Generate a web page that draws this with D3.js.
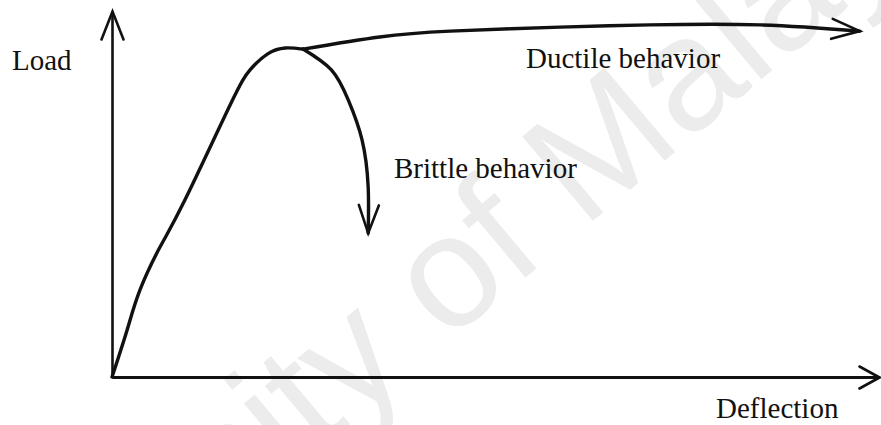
<!DOCTYPE html>
<html>
<head>
<meta charset="utf-8">
<script src="https://cdn.jsdelivr.net/npm/d3@7"></script>
<style>
  html, body { margin: 0; padding: 0; background: #fff; }
  svg { display: block; }
</style>
</head>
<body>
<svg id="chart" width="881" height="425"></svg>
<script>
// ---- data (arbitrary units: deflection 0-100, load 0-100) ----
const risingDeflection = [0, 1.96, 3.65, 6.26, 9.52, 15.4, 18.0, 20.3, 22.6, 24.9];
const risingLoad       = [0, 12.8, 23.8, 35.5, 48.4, 74.3, 83.9, 88.3, 89.9, 89.6];

const ductileDeflection = [24.9, 34.9, 44.1, 58.4, 70.1, 84.5, 97.5];
const ductileLoad       = [89.6, 92.9, 94.5, 95.6, 96.2, 96.2, 94.5];

const brittleDeflection = [24.9, 28.6, 30.8, 32.6, 33.4, 33.4];
const brittleLoad       = [89.6, 83.9, 75.7, 64.8, 51.9, 39.3];

const axisLabels = ["Load", "Deflection"];
const curveLabels = ["Ductile behavior", "Brittle behavior"];
const watermarkText = "University of Malaya";

// ---- layout ----
const svg = d3.select("#chart");
const x = d3.scaleLinear().domain([0, 100]).range([112, 879]);
const y = d3.scaleLinear().domain([0, 100]).range([377, 11]);

// watermark (beneath everything)
const wm = svg.append("text")
  .style("font-family", "Liberation Sans")
  .style("font-size", "160px")
  .attr("fill", "#ececec")
  .attr("transform", "translate(290,475) rotate(-40)")
  .text(watermarkText);
const prefixLen = wm.node().getSubStringLength(0, 7); // "Univers"
wm.attr("x", -prefixLen);

// arrow markers (open chevrons)
const defs = svg.append("defs");
function chevron(id, len, half) {
  defs.append("marker")
    .attr("id", id)
    .attr("markerUnits", "userSpaceOnUse")
    .attr("viewBox", `${-len - 4} ${-half - 4} ${len + 8} ${2 * half + 8}`)
    .attr("refX", 0).attr("refY", 0)
    .attr("markerWidth", len + 8).attr("markerHeight", 2 * half + 8)
    .attr("orient", "auto")
    .append("path")
    .attr("d", `M${-len},${-half}L0,0L${-len},${half}`)
    .attr("fill", "none")
    .attr("stroke", "#111")
    .attr("stroke-width", 2.6)
    .attr("stroke-linecap", "round")
    .attr("stroke-linejoin", "miter");
}
chevron("arrY", 28, 11);
chevron("arrX", 20, 11);
chevron("arrD", 28, 10);
chevron("arrB", 28, 10);

// axes
const xAxis = svg.append("g").attr("transform", `translate(0,${y(0)})`)
  .call(d3.axisBottom(x).ticks(0).tickSizeOuter(0));
xAxis.select(".domain").attr("stroke", "#111").attr("stroke-width", 3)
  .attr("marker-end", "url(#arrX)");

const yAxis = svg.append("g").attr("transform", `translate(${x(0)},0)`)
  .call(d3.axisLeft(y).ticks(0).tickSizeOuter(0));
yAxis.select(".domain").attr("stroke", "#111").attr("stroke-width", 2.6)
  .attr("marker-end", "url(#arrY)");

// curves
const line = d3.line().x(d => x(d[0])).y(d => y(d[1])).curve(d3.curveNatural);
const zip = (a, b) => a.map((v, i) => [v, b[i]]);

svg.append("path").datum(zip(risingDeflection, risingLoad))
  .attr("d", line).attr("fill", "none").attr("stroke", "#111")
  .attr("stroke-width", 3.4).attr("stroke-linecap", "round");

svg.append("path").datum(zip(ductileDeflection, ductileLoad))
  .attr("d", line).attr("fill", "none").attr("stroke", "#111")
  .attr("stroke-width", 3.4).attr("stroke-linecap", "round")
  .attr("marker-end", "url(#arrD)");

svg.append("path").datum(zip(brittleDeflection, brittleLoad))
  .attr("d", line).attr("fill", "none").attr("stroke", "#111")
  .attr("stroke-width", 3.4).attr("stroke-linecap", "round")
  .attr("marker-end", "url(#arrB)");

// labels
function label(txt, px, py) {
  svg.append("text").attr("x", px).attr("y", py)
    .style("font-family", "Liberation Serif")
    .style("font-size", "29px")
    .attr("fill", "#111")
    .text(txt);
}
label(axisLabels[0], 12, 70);
label(axisLabels[1], 716, 418);
label(curveLabels[0], 526, 68);
label(curveLabels[1], 394, 178);
</script>
</body>
</html>
